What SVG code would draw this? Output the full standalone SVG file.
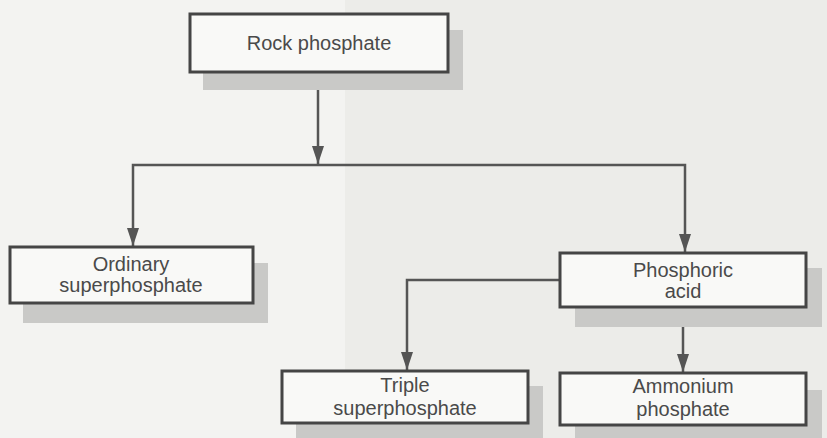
<svg xmlns="http://www.w3.org/2000/svg" width="827" height="438" viewBox="0 0 827 438">
<defs>
<style>
.bg{fill:#f3f3f1}
.bg2{fill:#ecece9}
.shadow{fill:#c9c9c7}
.box{fill:#f9f9f7;stroke:#454545;stroke-width:3}
.lbl{font-family:"Liberation Sans",Arial,sans-serif;font-size:20px;fill:#4a4a4a;text-anchor:middle}
.conn{fill:none;stroke:#555;stroke-width:2.5}
</style>
<marker id="arrD" markerUnits="userSpaceOnUse" markerWidth="14" markerHeight="20" viewBox="0 0 14 20" refX="7" refY="19" orient="0">
<path d="M1,1 L13,1 L7,19 Z" fill="#555"/>
</marker>
</defs>
<rect class="bg" x="0" y="0" width="827" height="438"/>
<rect class="bg2" x="345" y="0" width="482" height="438"/>
<g id="connectors">
<path class="conn" d="M318,72 L318,164" marker-end="url(#arrD)"/>
<path class="conn" d="M318,165 L133,165 L133,246" marker-end="url(#arrD)"/>
<path class="conn" d="M318,165 L685,165 L685,252" marker-end="url(#arrD)"/>
<path class="conn" d="M560,280 L407,280 L407,370" marker-end="url(#arrD)"/>
<path class="conn" d="M683,307 L683,372" marker-end="url(#arrD)"/>
</g>
<g id="rock-phosphate">
<rect class="shadow" x="203" y="30" width="260" height="60"/>
<rect class="box" x="190" y="14" width="258" height="58"/>
<text class="lbl" x="319" y="50">Rock phosphate</text>
</g>
<g id="ordinary-superphosphate">
<rect class="shadow" x="23" y="263" width="245" height="60"/>
<rect class="box" x="10" y="247" width="243" height="56"/>
<text class="lbl" x="131" y="271">Ordinary</text>
<text class="lbl" x="131" y="292">superphosphate</text>
</g>
<g id="phosphoric-acid">
<rect class="shadow" x="575" y="268" width="247" height="59"/>
<rect class="box" x="560" y="253" width="246" height="54"/>
<text class="lbl" x="683" y="277">Phosphoric</text>
<text class="lbl" x="683" y="298">acid</text>
</g>
<g id="triple-superphosphate">
<rect class="shadow" x="296" y="386" width="247" height="52"/>
<rect class="box" x="282" y="371" width="246" height="52"/>
<text class="lbl" x="405" y="392">Triple</text>
<text class="lbl" x="405" y="415">superphosphate</text>
</g>
<g id="ammonium-phosphate">
<rect class="shadow" x="575" y="390" width="247" height="48"/>
<rect class="box" x="560" y="373" width="246" height="52"/>
<text class="lbl" x="683" y="393">Ammonium</text>
<text class="lbl" x="683" y="416">phosphate</text>
</g>
</svg>
